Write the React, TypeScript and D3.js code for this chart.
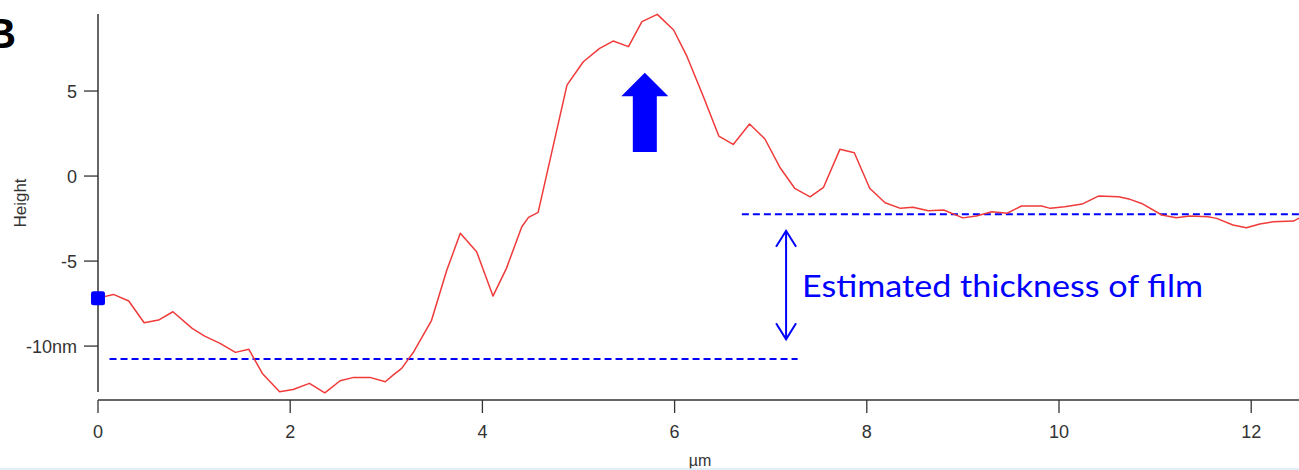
import React from "react";
import * as d3 from "d3";

// AFM height profile across the film edge
const positionUm: number[] = [
  0, 0.16, 0.32, 0.48, 0.63, 0.78, 0.98, 1.11, 1.27, 1.43, 1.57, 1.71, 1.89, 2.03,
  2.2, 2.36, 2.52, 2.66, 2.83, 2.99, 3.07, 3.16, 3.28, 3.47, 3.63, 3.77, 3.94, 4.11,
  4.25, 4.41, 4.48, 4.58, 4.88, 5.05, 5.22, 5.36, 5.52, 5.66, 5.82, 5.99, 6.13, 6.3,
  6.46, 6.61, 6.78, 6.94, 7.1, 7.25, 7.41, 7.55, 7.72, 7.87, 8.03, 8.19, 8.35, 8.48,
  8.64, 8.8, 9.0, 9.14, 9.3, 9.46, 9.61, 9.82, 9.91, 10.06, 10.24, 10.41, 10.62,
  10.74, 10.86, 11.07, 11.22, 11.36, 11.55, 11.64, 11.81, 11.95, 12.09, 12.23,
  12.44, 12.5,
];
const heightNm: number[] = [
  -7.18, -6.96, -7.35, -8.63, -8.47, -7.98, -8.96, -9.41, -9.84, -10.37, -10.19,
  -11.61, -12.69, -12.55, -12.19, -12.75, -12.04, -11.84, -11.84, -12.1, -11.71,
  -11.31, -10.38, -8.5, -5.53, -3.37, -4.45, -7.06, -5.43, -2.98, -2.43, -2.14,
  5.35, 6.72, 7.51, 7.94, 7.61, 9.08, 9.51, 8.59, 7.02, 4.66, 2.35, 1.86, 3.06,
  2.18, 0.47, -0.72, -1.22, -0.66, 1.57, 1.37, -0.72, -1.57, -1.9, -1.84, -2.04,
  -2.0, -2.46, -2.35, -2.1, -2.19, -1.76, -1.76, -1.9, -1.81, -1.65, -1.18, -1.22,
  -1.37, -1.61, -2.29, -2.45, -2.35, -2.39, -2.49, -2.88, -3.04, -2.82, -2.69,
  -2.65, -2.47,
];

const xTicks: number[] = [0, 2, 4, 6, 8, 10, 12];
const yTicks: number[] = [5, 0, -5, -10];
const yTickLabels: string[] = ["5", "0", "-5", "-10nm"];

// Reference levels: substrate and film surface
const substrateLevel = -10.76;
const filmLevel = -2.24;
const substrateSpan: [number, number] = [0.12, 7.28];
const filmSpan: [number, number] = [6.7, 12.5];

// Thickness marker and up-arrow positions (data units)
const thicknessX = 7.16;
const thicknessRange: [number, number] = [-3.22, -9.6];
const upArrowX = 5.69;
const upArrowRange: [number, number] = [1.41, 6.08];

const W = 1299;
const H = 470;

export default function App() {
  const x = d3.scaleLinear().domain([0, 12.5]).range([98, 1299.25]);
  const y = d3.scaleLinear().domain([-12.7, 9.53]).range([392, 14]);

  const line = d3
    .line<number>()
    .x((_, i) => x(positionUm[i]))
    .y((d) => y(d));

  const axisColor = "#333";
  const blue = "#0000ff";
  const font = "'Liberation Sans', Arial, sans-serif";

  // up arrow geometry
  const ax = x(upArrowX);
  const aTop = y(upArrowRange[1]);
  const aHeadBase = aTop + 23.5;
  const aBottom = y(upArrowRange[0]);
  const upArrow = [
    [ax, aTop],
    [ax + 23.5, aHeadBase],
    [ax + 12, aHeadBase],
    [ax + 12, aBottom],
    [ax - 12, aBottom],
    [ax - 12, aHeadBase],
    [ax - 23.5, aHeadBase],
  ]
    .map((p) => p.join(","))
    .join(" ");

  const tx = x(thicknessX);
  const tTop = y(thicknessRange[0]);
  const tBot = y(thicknessRange[1]);

  return (
    <svg
      width={W}
      height={H}
      style={{ position: "absolute", left: 0, top: 0, background: "#fff" }}
    >
      <rect x={0} y={0} width={W} height={H} fill="#fff" />

      {/* panel letter */}
      <text x={16} y={48} textAnchor="end" fontFamily={font} fontWeight="bold" fontSize={42} fill="#000">
        B
      </text>

      {/* y axis */}
      <line x1={98} x2={98} y1={14} y2={392} stroke={axisColor} strokeWidth={1.5} />
      {yTicks.map((t, i) => (
        <g key={t}>
          <line x1={84} x2={98} y1={y(t)} y2={y(t)} stroke={axisColor} strokeWidth={1.3} />
          <text
            x={77}
            y={y(t)}
            dy="0.36em"
            textAnchor="end"
            fontFamily={font}
            fontSize={18}
            fill={axisColor}
          >
            {yTickLabels[i]}
          </text>
        </g>
      ))}
      <text
        transform={`translate(26,203) rotate(-90)`}
        textAnchor="middle"
        fontFamily={font}
        fontSize={17}
        fill={axisColor}
      >
        Height
      </text>

      {/* x axis */}
      <line x1={98} x2={1299} y1={400} y2={400} stroke={axisColor} strokeWidth={1.5} />
      {xTicks.map((t) => (
        <g key={t}>
          <line x1={x(t)} x2={x(t)} y1={400} y2={413} stroke={axisColor} strokeWidth={1.3} />
          <text
            x={x(t)}
            y={432}
            dy="0.36em"
            textAnchor="middle"
            fontFamily={font}
            fontSize={18}
            fill={axisColor}
          >
            {t}
          </text>
        </g>
      ))}
      <text x={700} y={460} dy="0.36em" textAnchor="middle" fontFamily={font} fontSize={16} fill={axisColor}>
        µm
      </text>

      {/* reference levels */}
      <line
        x1={x(substrateSpan[0])}
        x2={x(substrateSpan[1])}
        y1={y(substrateLevel)}
        y2={y(substrateLevel)}
        stroke={blue}
        strokeWidth={2}
        strokeDasharray="7 4"
      />
      <line
        x1={x(filmSpan[0])}
        x2={x(filmSpan[1])}
        y1={y(filmLevel)}
        y2={y(filmLevel)}
        stroke={blue}
        strokeWidth={2}
        strokeDasharray="7 4"
      />

      {/* height profile */}
      <path d={line(heightNm) ?? ""} fill="none" stroke="#f03a3a" strokeWidth={1.5} strokeLinejoin="round" />

      {/* cursor marker at start */}
      <rect
        x={x(positionUm[0]) - 7}
        y={y(heightNm[0]) - 7}
        width={14}
        height={14}
        rx={2.5}
        fill={blue}
      />

      {/* thickness double arrow */}
      <g stroke={blue} strokeWidth={2} fill="none">
        <line x1={tx} x2={tx} y1={tTop} y2={tBot} />
        <polyline points={`${tx - 10},${tTop + 16} ${tx},${tTop} ${tx + 10},${tTop + 16}`} />
        <polyline points={`${tx - 10},${tBot - 16} ${tx},${tBot} ${tx + 10},${tBot - 16}`} />
      </g>
      <text
        x={802}
        y={297}
        fontFamily="Lato, 'Open Sans', sans-serif"
        fontSize={30}
        fill={blue}
        textLength={401}
        lengthAdjust="spacingAndGlyphs"
      >
        Estimated thickness of film
      </text>

      {/* highlight arrow */}
      <polygon points={upArrow} fill={blue} />

      {/* bottom rule */}
      <line x1={0} x2={W} y1={469} y2={469} stroke="#dce8f4" strokeWidth={1.5} />
    </svg>
  );
}
